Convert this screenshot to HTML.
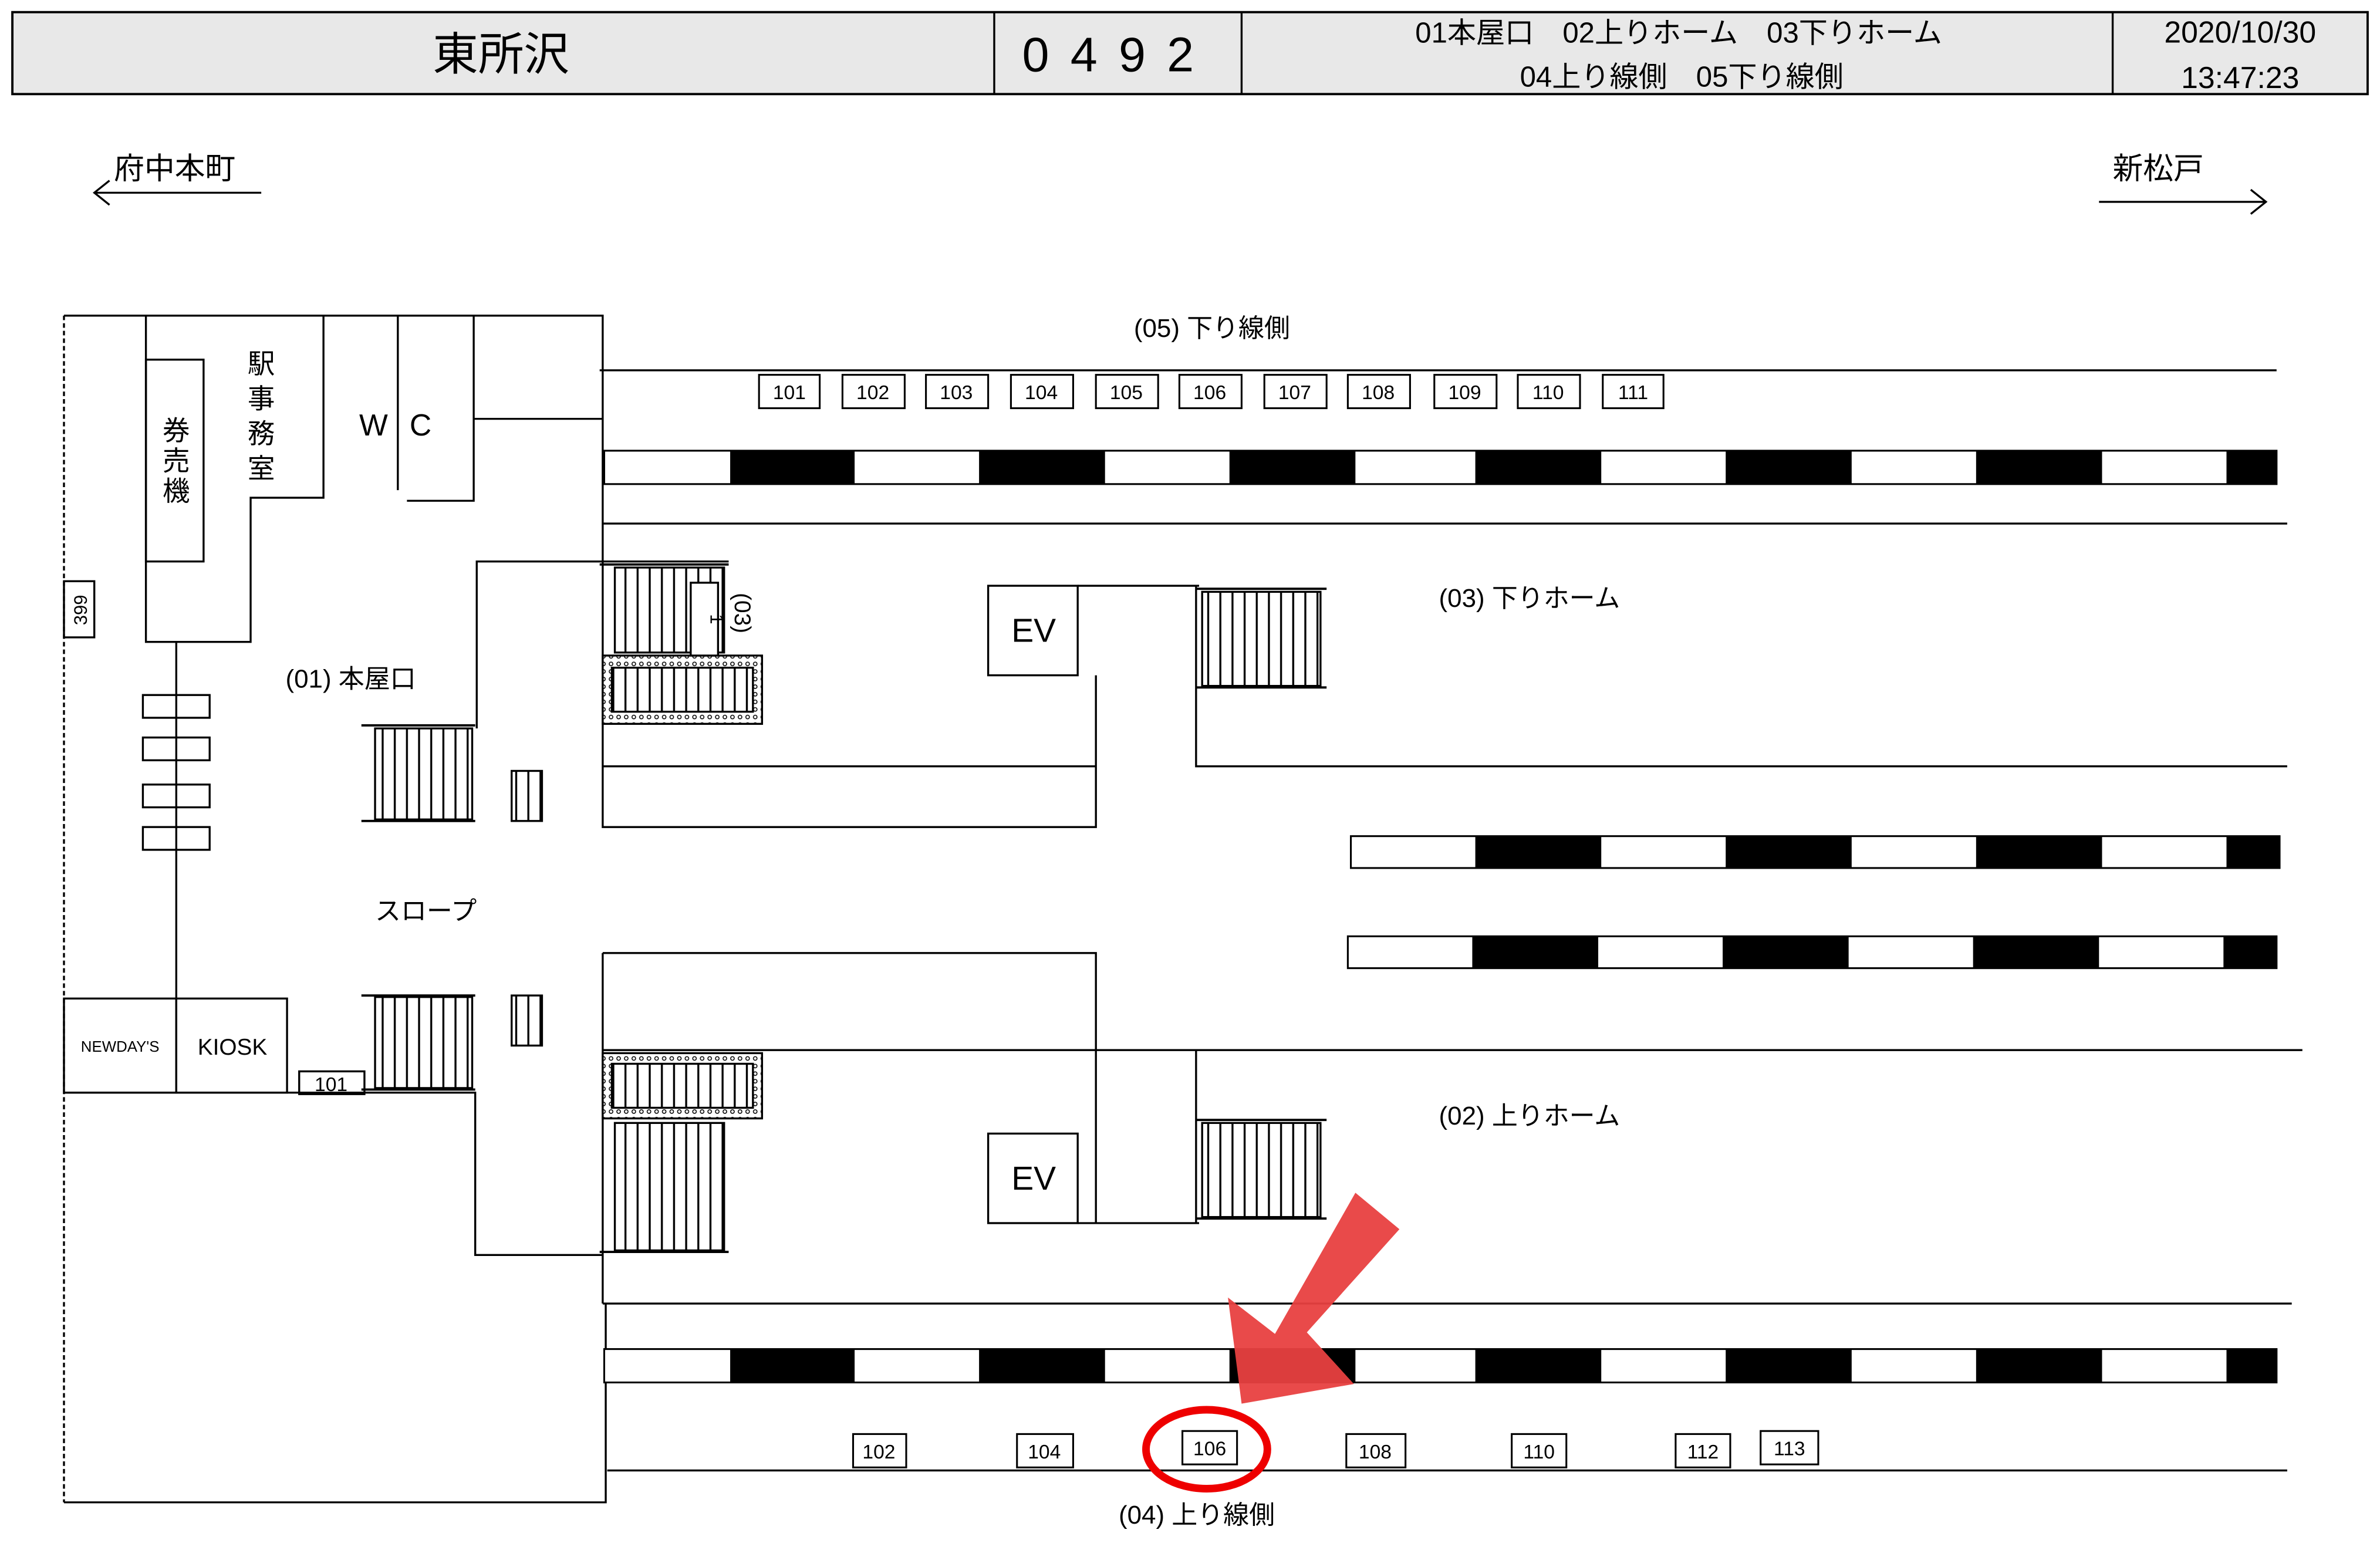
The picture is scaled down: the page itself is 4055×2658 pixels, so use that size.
<!DOCTYPE html>
<html><head><meta charset="utf-8"><style>
html,body{margin:0;padding:0;background:#fff;}
svg{display:block;}
text{font-family:"Liberation Sans","Noto Sans CJK JP",sans-serif;fill:#000;}
</style></head><body>
<svg width="4055" height="2658" viewBox="0 0 1568 1028" xmlns="http://www.w3.org/2000/svg">
<defs>
<pattern id="st" width="8" height="10" patternUnits="userSpaceOnUse"><rect width="8" height="10" fill="#fff"/><line x1="4" y1="0" x2="4" y2="10" stroke="#000" stroke-width="1.3"/></pattern>
<pattern id="dt" width="5" height="5" patternUnits="userSpaceOnUse"><rect width="5" height="5" fill="#fff"/><circle cx="2.5" cy="2.5" r="1.2" fill="none" stroke="#000" stroke-width="0.6"/></pattern>
</defs>
<g fill="none" stroke="#000" stroke-width="1.3">
<!-- header -->
<rect x="8" y="8" width="1552" height="54" fill="#e8e8e8" stroke-width="1.5"/>
<line x1="655" y1="8" x2="655" y2="62"/><line x1="818" y1="8" x2="818" y2="62"/><line x1="1392" y1="8" x2="1392" y2="62"/>
<!-- direction arrows -->
<path d="M62 127 H172 M72 119 L62 127 L72 135"/>
<path d="M1383 133 H1493 M1483 125 L1493 133 L1483 141"/>
<!-- outer left -->
<line x1="42" y1="208" x2="42" y2="990" stroke-dasharray="3,2"/>
<path d="M42 208 H397 V345"/>
<path d="M42 990 H399 V859"/>
<!-- office -->
<path d="M96 208 V423 H165 V328 H213 V208"/>
<rect x="96" y="237" width="38" height="133"/>
<path d="M262 208 V323 M312 208 V330 H268 M312 276 H397"/>
<line x1="116" y1="423" x2="116" y2="658"/>
<rect x="94" y="458" width="44" height="15"/><rect x="94" y="486" width="44" height="15"/><rect x="94" y="517" width="44" height="15"/><rect x="94" y="545" width="44" height="15"/>
<rect x="42" y="383" width="20" height="37"/>
<rect x="42" y="658" width="74" height="62"/><rect x="116" y="658" width="73" height="62"/>
<rect x="197" y="706" width="43" height="15"/>
<path d="M42 720 H313 V827 H397"/>
<!-- tracks top -->
<line x1="395" y1="244" x2="1500" y2="244"/>
<line x1="397" y1="345" x2="1507" y2="345"/>
<!-- upper platform structures -->
<path d="M314 480 V370 H480"/>
<path d="M397 345 V545 H722 V445 M397 505 H722"/>
<rect x="651" y="386" width="59" height="59"/>
<path d="M710 386 H790 M788 386 V505 H1507"/>
<!-- lower platform structures -->
<path d="M397 628 H722 V806 M397 692 H722 M397 628 V859"/>
<rect x="651" y="747" width="59" height="59"/>
<path d="M710 806 H790 M788 692 V806 M722 692 H1517"/>
<!-- tracks bottom -->
<line x1="397" y1="859" x2="1510" y2="859"/>
<line x1="400" y1="969" x2="1507" y2="969"/>
</g>
<!-- stairs -->
<g stroke="#000" stroke-width="1.3">
<rect x="405" y="374" width="72" height="56" fill="url(#st)"/>
<rect x="397" y="432" width="105" height="45" fill="url(#dt)"/>
<rect x="403" y="440" width="93" height="29" fill="url(#st)"/>
<rect x="247" y="480" width="64" height="60" fill="url(#st)"/>
<rect x="337" y="508" width="20" height="33" fill="url(#st)"/>
<rect x="792" y="390" width="78" height="62" fill="url(#st)"/>
<rect x="455" y="384" width="18" height="48" fill="#fff"/>
<rect x="247" y="657" width="64" height="60" fill="url(#st)"/>
<rect x="337" y="656" width="20" height="33" fill="url(#st)"/>
<rect x="397" y="694" width="105" height="43" fill="url(#dt)"/>
<rect x="403" y="701" width="93" height="29" fill="url(#st)"/>
<rect x="405" y="740" width="72" height="84" fill="url(#st)"/>
<rect x="792" y="740" width="78" height="62" fill="url(#st)"/>
</g>
<g stroke="#000" stroke-width="1.5"><line x1="395" y1="372" x2="480" y2="372"/><line x1="238" y1="478" x2="313" y2="478"/><line x1="238" y1="541" x2="313" y2="541"/><line x1="788" y1="388" x2="874" y2="388"/><line x1="788" y1="453" x2="874" y2="453"/><line x1="238" y1="656" x2="313" y2="656"/><line x1="238" y1="718" x2="313" y2="718"/><line x1="395" y1="825" x2="480" y2="825"/><line x1="788" y1="738" x2="874" y2="738"/><line x1="788" y1="803" x2="874" y2="803"/></g>
<!-- stripe bars -->
<g stroke="#000" stroke-width="1.2">
<rect x="398" y="297" width="1102" height="22" fill="#fff"/>
<rect x="398" y="889" width="1102" height="22" fill="#fff"/>
<rect x="890" y="551" width="612" height="21" fill="#fff"/>
<rect x="888" y="617" width="612" height="21" fill="#fff"/>
</g>
<g fill="#000">
<rect x="481" y="297" width="82" height="22"/><rect x="645" y="297" width="83" height="22"/><rect x="810" y="297" width="83" height="22"/><rect x="972" y="297" width="83" height="22"/><rect x="1137" y="297" width="83" height="22"/><rect x="1302" y="297" width="83" height="22"/><rect x="1467" y="297" width="33" height="22"/>
<rect x="481" y="889" width="82" height="22"/><rect x="645" y="889" width="83" height="22"/><rect x="810" y="889" width="83" height="22"/><rect x="972" y="889" width="83" height="22"/><rect x="1137" y="889" width="83" height="22"/><rect x="1302" y="889" width="83" height="22"/><rect x="1467" y="889" width="33" height="22"/>
<rect x="972" y="551" width="83" height="21"/><rect x="1137" y="551" width="83" height="21"/><rect x="1302" y="551" width="83" height="21"/><rect x="1467" y="551" width="35" height="21"/>
<rect x="970" y="617" width="83" height="21"/><rect x="1135" y="617" width="83" height="21"/><rect x="1300" y="617" width="83" height="21"/><rect x="1465" y="617" width="35" height="21"/>
</g>
<!-- number boxes -->
<g fill="#fff" stroke="#000" stroke-width="1.2">
<rect x="500" y="247" width="40" height="22"/><rect x="555" y="247" width="41" height="22"/><rect x="610" y="247" width="41" height="22"/><rect x="666" y="247" width="41" height="22"/><rect x="722" y="247" width="41" height="22"/><rect x="777" y="247" width="41" height="22"/><rect x="833" y="247" width="41" height="22"/><rect x="888" y="247" width="41" height="22"/><rect x="945" y="247" width="41" height="22"/><rect x="1000" y="247" width="41" height="22"/><rect x="1056" y="247" width="40" height="22"/>
<rect x="562" y="945" width="35" height="22"/><rect x="670" y="945" width="37" height="22"/><rect x="779" y="943" width="36" height="22"/><rect x="887" y="945" width="39" height="22"/><rect x="996" y="945" width="36" height="22"/><rect x="1104" y="945" width="36" height="22"/><rect x="1160" y="943" width="38" height="22"/>
</g>
<g font-size="13" text-anchor="middle">
<text x="520" y="263">101</text><text x="575" y="263">102</text><text x="630" y="263">103</text><text x="686" y="263">104</text><text x="742" y="263">105</text><text x="797" y="263">106</text><text x="853" y="263">107</text><text x="908" y="263">108</text><text x="965" y="263">109</text><text x="1020" y="263">110</text><text x="1076" y="263">111</text>
<text x="579" y="961">102</text><text x="688" y="961">104</text><text x="797" y="959">106</text><text x="906" y="961">108</text><text x="1014" y="961">110</text><text x="1122" y="961">112</text><text x="1179" y="959">113</text>
<text x="218" y="719">101</text>
</g>
<!-- header text -->
<text x="330" y="46" font-size="30" text-anchor="middle">東所沢</text>
<text x="737" y="47" font-size="32" text-anchor="middle" letter-spacing="14">0492</text>
<text x="1106" y="28" font-size="19" text-anchor="middle">01本屋口　02上りホーム　03下りホーム</text>
<text x="1108" y="57" font-size="19" text-anchor="middle">04上り線側　05下り線側</text>
<text x="1476" y="28" font-size="20" text-anchor="middle">2020/10/30</text>
<text x="1476" y="58" font-size="20" text-anchor="middle">13:47:23</text>
<text x="75" y="118" font-size="20">府中本町</text>
<text x="1392" y="118" font-size="20">新松戸</text>
<g font-size="17">
<text x="747" y="222">(05) 下り線側</text>
<text x="948" y="400">(03) 下りホーム</text>
<text x="948" y="741">(02) 上りホーム</text>
<text x="737" y="1004">(04) 上り線側</text>
<text x="188" y="453">(01) 本屋口</text>
<text x="247" y="606">スロープ</text>
</g>
<g font-size="18" text-anchor="middle">
<text x="172" y="246">駅</text><text x="172" y="269">事</text><text x="172" y="292">務</text><text x="172" y="315">室</text>
<text x="116" y="290">券</text><text x="116" y="310">売</text><text x="116" y="330">機</text>
<text x="246" y="287" font-size="20">W</text><text x="277" y="287" font-size="20">C</text>
<text x="681" y="423" font-size="22">EV</text><text x="681" y="784" font-size="22">EV</text>
<text x="153" y="695" font-size="15">KIOSK</text>
<text x="79" y="693" font-size="10">NEWDAY'S</text>
</g>
<text transform="translate(57,402) rotate(-90)" font-size="12" text-anchor="middle">399</text>
<text transform="translate(484,404) rotate(90)" font-size="15" text-anchor="middle">(03)</text>
<text transform="translate(468,408) rotate(90)" font-size="12" text-anchor="middle">1</text>
<!-- red marker -->
<ellipse cx="795" cy="955" rx="40" ry="26" fill="none" stroke="#e00" stroke-width="5"/>
<polygon points="893,786 922,810 861,878 892,912 818,925 809,855 840,879" fill="#e84040" opacity="0.95"/>
</svg>
</body></html>
